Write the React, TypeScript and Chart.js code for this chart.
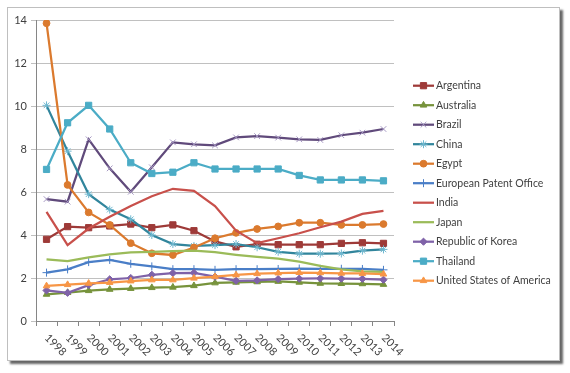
import React, { useEffect, useRef } from 'react';
import { Chart, registerables } from 'chart.js';
import * as helpers from 'chart.js/helpers';

Chart.register(...registerables);

const years = ['1998', '1999', '2000', '2001', '2002', '2003', '2004', '2005', '2006', '2007', '2008', '2009', '2010', '2011', '2012', '2013', '2014'];
const yTicks = [0, 2, 4, 6, 8, 10, 12, 14];

const argentina = [3.8, 4.39, 4.34, 4.42, 4.51, 4.34, 4.47, 4.2, 3.7, 3.45, 3.57, 3.55, 3.55, 3.55, 3.61, 3.64, 3.61];
const australia = [1.24, 1.32, 1.41, 1.47, 1.51, 1.55, 1.57, 1.64, 1.77, 1.8, 1.82, 1.84, 1.8, 1.75, 1.74, 1.73, 1.7];
const brazil = [5.67, 5.55, 8.45, 7.1, 6.01, 7.15, 8.31, 8.22, 8.17, 8.54, 8.6, 8.53, 8.45, 8.42, 8.64, 8.76, 8.93];
const china = [10.03, 7.9, 5.9, 5.18, 4.73, 4.0, 3.58, 3.49, 3.53, 3.58, 3.43, 3.22, 3.13, 3.13, 3.14, 3.27, 3.33];
const egypt = [13.85, 6.33, 5.05, 4.47, 3.62, 3.15, 3.07, 3.42, 3.85, 4.1, 4.28, 4.4, 4.57, 4.57, 4.47, 4.47, 4.51];
const epo = [2.25, 2.4, 2.74, 2.84, 2.66, 2.54, 2.41, 2.41, 2.38, 2.41, 2.41, 2.42, 2.44, 2.43, 2.43, 2.42, 2.38];
const india = [5.08, 3.53, 4.3, 4.85, 5.35, 5.8, 6.15, 6.05, 5.35, 4.2, 3.62, 3.85, 4.08, 4.36, 4.62, 4.98, 5.12];
const japan = [2.87, 2.79, 2.96, 3.1, 3.19, 3.22, 3.25, 3.27, 3.2, 3.08, 2.98, 2.9, 2.76, 2.56, 2.4, 2.31, 2.28];
const korea = [1.42, 1.31, 1.67, 1.94, 2.0, 2.15, 2.23, 2.24, 2.06, 1.87, 1.89, 1.95, 1.97, 1.98, 1.97, 1.96, 1.92];
const thailand = [7.05, 9.22, 10.03, 8.93, 7.36, 6.86, 6.92, 7.36, 7.07, 7.07, 7.07, 7.07, 6.77, 6.56, 6.56, 6.56, 6.52];
const usa = [1.63, 1.69, 1.75, 1.79, 1.86, 1.91, 1.91, 1.99, 2.06, 2.14, 2.2, 2.23, 2.25, 2.24, 2.22, 2.21, 2.18];

const seriesNames = ['Argentina', 'Australia', 'Brazil', 'China', 'Egypt', 'European Patent Office', 'India', 'Japan', 'Republic of Korea', 'Thailand', 'United States of America'];
const seriesData = [argentina, australia, brazil, china, egypt, epo, india, japan, korea, thailand, usa];
const seriesColors = ['#9E3A38', '#77933C', '#604A7B', '#31859C', '#DB7A2E', '#4A7EC7', '#C8504B', '#9BBB59', '#7F62A8', '#4BACC6', '#F79646'];
const markerColors = ['#9E3A38', '#77933C', '#A597C2', '#6FB8D0', '#DB7A2E', '#4A7EC7', '#C8504B', '#9BBB59', '#7F62A8', '#4BACC6', '#F79646'];
const markerStyles: any[] = ['rect', 'triangle', 'crossRot', 'star', 'circle', 'cross', false, false, 'rectRot', 'rect', 'triangle'];
const markerRadius = [4.4, 3.8, 4, 4, 3.4, 4, 0, 0, 3.6, 4.4, 3.8];

const FONT = 'Lato, "Liberation Sans", sans-serif';

const customDraw = {
  id: 'customDraw',
  afterDraw(chart: any) {
    const ctx = chart.ctx;
    const xs = chart.scales.x;
    ctx.save();
    ctx.font = '11px ' + FONT;
    ctx.fillStyle = '#404040';
    ctx.textAlign = 'left';
    ctx.textBaseline = 'middle';
    years.forEach((yr, i) => {
      const px = xs.getPixelForValue(i);
      ctx.save();
      ctx.translate(px, 336);
      ctx.rotate(Math.PI / 4);
      ctx.fillText(yr, 0, 0);
      ctx.restore();
    });
    // legend
    ctx.font = '10.5px ' + FONT;
    seriesNames.forEach((name, i) => {
      const cy = 85.7 + i * 19.5;
      ctx.strokeStyle = seriesColors[i];
      ctx.lineWidth = 2.25;
      ctx.beginPath();
      ctx.moveTo(413, cy);
      ctx.lineTo(434, cy);
      ctx.stroke();
      if (markerStyles[i]) {
        ctx.fillStyle = markerColors[i];
        ctx.strokeStyle = markerColors[i];
        ctx.lineWidth = 1;
        helpers.drawPoint(ctx, { pointStyle: markerStyles[i], radius: markerRadius[i], rotation: 0, borderWidth: 1 } as any, 423.5, cy);
      }
      ctx.fillStyle = '#404040';
      ctx.fillText(name, 436, cy);
    });
    ctx.restore();
  },
};

export default function App() {
  const ref = useRef<HTMLCanvasElement | null>(null);
  useEffect(() => {
    if (!ref.current) return;
    const n = seriesNames.length;
    const chart = new Chart(ref.current, {
      type: 'line',
      data: {
        labels: years,
        datasets: seriesNames.map((name, i) => ({
          label: name,
          data: seriesData[i],
          borderColor: seriesColors[i],
          backgroundColor: markerColors[i],
          pointBackgroundColor: markerColors[i],
          pointBorderColor: markerColors[i],
          pointBorderWidth: 1,
          pointStyle: markerStyles[i],
          pointRadius: markerRadius[i],
          borderWidth: 2.25,
          tension: 0,
          fill: false,
          order: n - i,
        })),
      },
      options: {
        responsive: false,
        animation: false,
        layout: { padding: { left: 0, right: 176, top: 20, bottom: 0 } },
        plugins: { legend: { display: false }, tooltip: { enabled: false } },
        scales: {
          x: {
            type: 'category',
            offset: true,
            grid: { offset: true, drawOnChartArea: false, drawTicks: true, tickLength: 5, color: '#868686' },
            border: { color: '#868686' },
            ticks: { display: false },
            afterFit: (s: any) => { s.height = 373 - 321; },
          },
          y: {
            min: 0,
            max: 14,
            afterBuildTicks: (s: any) => { s.ticks = yTicks.map((v) => ({ value: v })); },
            ticks: { font: { family: FONT, size: 11 }, color: '#404040', padding: 4 },
            grid: { color: '#C0C0C0', tickLength: 5 },
            border: { color: '#868686' },
            afterFit: (s: any) => { s.width = 36; },
          },
        },
      },
      plugins: [customDraw],
    } as any);
    return () => chart.destroy();
  }, []);
  return (
    <div style={{ position: 'absolute', left: 0, top: 0, width: 570, height: 373, background: '#fff' }}>
      <div style={{ position: 'absolute', left: 7, top: 7, width: 551, height: 352, border: '1px solid #BFBFBF', boxShadow: '3px 3px 2px rgba(0,0,0,0.6)', background: '#fff' }} />
      <canvas ref={ref} width={570} height={373} style={{ position: 'absolute', left: 0, top: 0, width: 570, height: 373 }} />
    </div>
  );
}
